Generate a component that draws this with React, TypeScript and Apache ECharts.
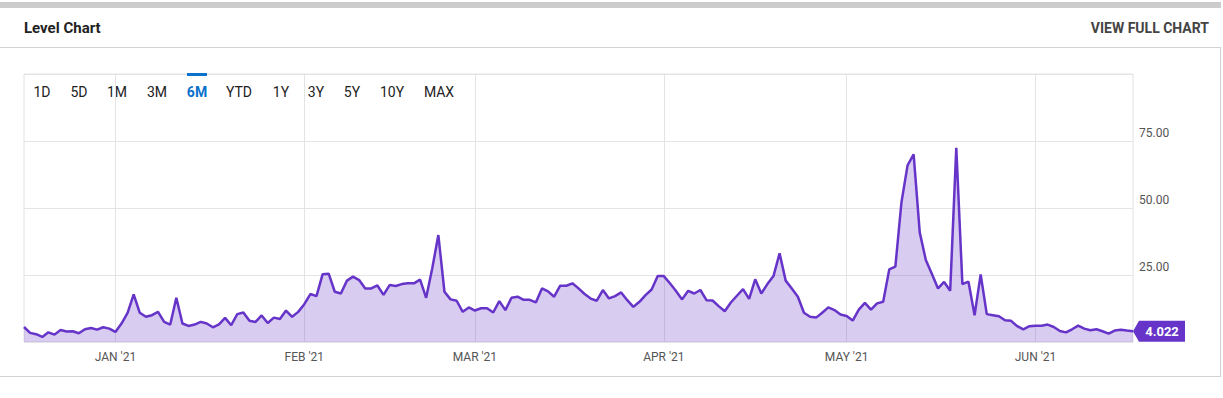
import React, { useEffect, useRef } from "react";
import * as echarts from "echarts";

const START_DATE = "2020-12-17";
const VALUES: number[] = [
  5.6, 3.4, 2.9, 1.9, 3.6, 2.75, 4.5, 3.9, 4.0, 3.25, 4.75, 5.25, 4.6, 5.5, 5.0, 3.75,
  6.9, 10.9, 17.75, 10.9, 9.4, 10.0, 11.25, 7.5, 6.5, 16.5, 6.9, 6.0, 6.5, 7.5, 6.9, 5.5, 6.6, 9.0, 6.25, 10.4, 11.0, 7.9, 7.5, 9.9, 7.1, 9.1, 8.6, 11.75, 9.4, 11.25,
  14.1, 17.9, 17.1, 25.25, 25.5, 18.75, 18.1, 22.9, 24.4, 23.1, 20.0, 20.0, 21.1, 17.6, 21.25, 20.9, 21.6, 21.9, 21.9, 23.25, 16.5, 27.5, 39.9, 18.75, 15.9, 15.4, 11.25, 12.9, 11.75,
  12.6, 12.6, 11.0, 15.25, 11.9, 16.5, 16.9, 15.75, 15.75, 14.75, 20.0, 18.9, 16.9, 21.0, 21.0, 21.9, 20.0, 17.9, 16.2, 15.4,
  19.4, 16.25, 17.1, 18.5, 15.6, 13.1, 15.0, 17.5, 19.6, 24.6, 24.6, 21.9, 19.0, 15.9, 19.1, 18.1, 19.4, 15.6, 15.5, 13.4, 11.5, 14.75, 17.25, 19.75, 16.1, 23.4, 18.1, 21.6, 24.6, 33.1, 22.9, 20.0, 16.9, 10.9, 9.4, 9.1, 10.9, 12.9, 11.9, 10.25,
  9.7, 8.0, 12.1, 14.6, 12.1, 14.4, 15.0, 27.1, 28.1, 52.1, 65.9, 70.0, 40.9, 30.6, 25.4, 20.0, 22.4, 19.1, 72.5, 21.6, 22.5, 10.0, 25.25, 10.4, 10.0, 9.6, 8.1, 7.9, 5.9, 4.75, 5.9, 6.1, 6.1, 6.5, 5.6, 4.1, 3.6, 4.75, 6.1, 5.0, 4.4, 4.75, 4.0, 3.1, 4.25, 4.6, 4.25, 4.022,
];
const RANGE_BUTTONS = ["1D", "5D", "1M", "3M", "6M", "YTD", "1Y", "3Y", "5Y", "10Y", "MAX"];
const ACTIVE_RANGE = "6M";
const MONTHS = ["JAN", "FEB", "MAR", "APR", "MAY", "JUN", "JUL", "AUG", "SEP", "OCT", "NOV", "DEC"];
const Y_TICKS = [25, 50, 75];
const TITLE = "Level Chart";
const LINK = "VIEW FULL CHART";

function buildDates(start: string, n: number): string[] {
  const out: string[] = [];
  const d = new Date(start + "T00:00:00Z");
  for (let i = 0; i < n; i++) {
    out.push(d.toISOString().slice(0, 10));
    d.setUTCDate(d.getUTCDate() + 1);
  }
  return out;
}

const DATES = buildDates(START_DATE, VALUES.length);

export default function App() {
  const ref = useRef<HTMLDivElement>(null);
  useEffect(() => {
    if (!ref.current) return;
    const chart = echarts.init(ref.current, null, { renderer: "svg" });
    const font = "Roboto, 'Noto Sans', sans-serif";
    const btnX = [42, 79, 117, 157, 197, 239, 281, 316, 352, 392, 439];
    const lastIdx = VALUES.length - 1;
    const lastVal = VALUES[lastIdx];
    const graphics: any[] = [
      { type: "rect", shape: { x: 0, y: 2, width: 1221, height: 6 }, style: { fill: "#cccccc" }, silent: true },
      { type: "line", shape: { x1: 0, y1: 47.5, x2: 1221, y2: 47.5 }, style: { stroke: "#d2d2d2", lineWidth: 1 } },
      { type: "line", shape: { x1: 1220.5, y1: 47, x2: 1220.5, y2: 376.5 }, style: { stroke: "#d2d2d2", lineWidth: 1 } },
      { type: "line", shape: { x1: 0, y1: 376.5, x2: 1221, y2: 376.5 }, style: { stroke: "#d2d2d2", lineWidth: 1 } },
      {
        type: "text", x: 24, y: 28,
        style: { text: TITLE, fill: "#222", font: `bold 15px ${font}`, textAlign: "left", textVerticalAlign: "middle" },
      },
      {
        type: "text", x: 1209, y: 28,
        style: { text: LINK, fill: "#444", font: `bold 14px ${font}`, textAlign: "right", textVerticalAlign: "middle" },
      },
      { type: "rect", z: 100, shape: { x: 187, y: 73, width: 20, height: 3 }, style: { fill: "#0a72cc" } },
    ];
    RANGE_BUTTONS.forEach((b, i) => {
      graphics.push({
        type: "text", x: btnX[i], y: 92,
        style: {
          text: b,
          fill: b === ACTIVE_RANGE ? "#0a72cc" : "#222",
          font: `${b === ACTIVE_RANGE ? "bold " : ""}14px ${font}`,
          textAlign: "center", textVerticalAlign: "middle",
        },
      });
    });

    chart.setOption({
      animation: false,
      grid: { left: 24, right: 90, top: 74, bottom: 56, show: true, borderColor: "#e2e2e2", borderWidth: 1, containLabel: false },
      xAxis: {
        type: "category",
        data: DATES,
        boundaryGap: false,
        axisLine: { show: false },
        axisTick: { show: false },
        axisLabel: {
          interval: (_i: number, v: string) => v.endsWith("-01"),
          formatter: (v: string) => `${MONTHS[parseInt(v.slice(5, 7), 10) - 1]} '${v.slice(2, 4)}`,
          color: "#555",
          fontFamily: font,
          fontSize: 12,
          margin: 9,
        },
        splitLine: {
          show: true,
          interval: (_i: number, v: string) => v.endsWith("-01"),
          lineStyle: { color: "#e4e4e4", width: 1 },
        },
      },
      yAxis: {
        type: "value",
        position: "right",
        min: 0,
        max: 100,
        interval: 25,
        axisLine: { show: false },
        axisTick: { show: false },
        axisLabel: {
          formatter: (v: number) => (Y_TICKS.includes(v) ? v.toFixed(2) : ""),
          color: "#555",
          fontFamily: font,
          fontSize: 12,
          margin: 6,
          verticalAlign: "bottom",
          lineHeight: 16,
        },
        splitLine: { show: true, lineStyle: { color: "#e4e4e4", width: 1 } },
      },
      series: [
        {
          type: "line",
          data: VALUES,
          symbol: "none",
          clip: false,
          lineStyle: { color: "#6634c8", width: 2.5 },
          areaStyle: { color: "rgba(106,59,200,0.26)", opacity: 1 },
          markPoint: {
            silent: true,
            data: [
              {
                coord: [lastIdx, lastVal],
                value: lastVal,
                symbol: "path://M0,10.5 L6,0 L52,0 L52,21 L6,21 Z",
                symbolSize: [52, 21],
                symbolKeepAspect: false,
                symbolOffset: [26, 0],
                itemStyle: { color: "#6634c8" },
                label: {
                  show: true,
                  position: "inside",
                  formatter: () => lastVal.toFixed(3),
                  color: "#fff",
                  fontWeight: "bold",
                  fontSize: 13,
                  fontFamily: font,
                  offset: [3, 0],
                },
              },
            ],
          },
        },
      ],
      graphic: graphics,
    });
    return () => chart.dispose();
  }, []);
  return <div ref={ref} style={{ position: "fixed", left: 0, top: 0, width: 1223, height: 398, background: "#fff" }} />;
}
